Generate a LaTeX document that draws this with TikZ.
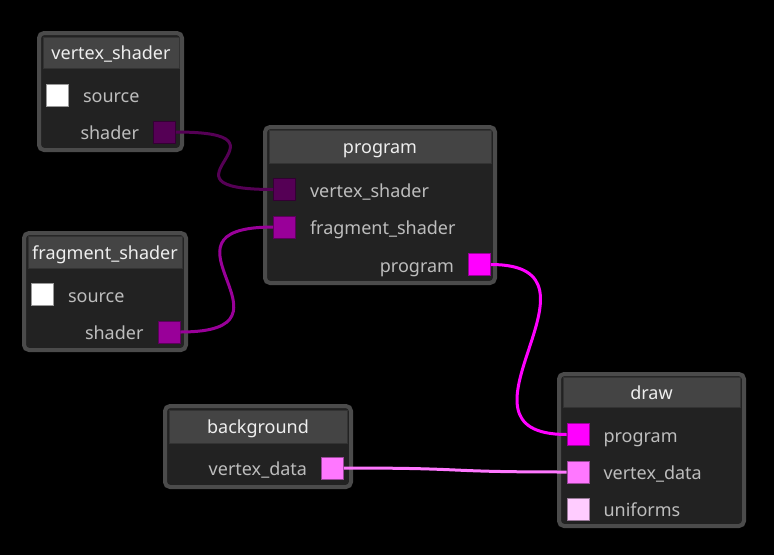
\documentclass[tikz,border=0pt]{standalone}
\usepackage{fontspec}
\setmainfont{Noto Sans}
\definecolor{nodeborder}{HTML}{4B4B4B}
\definecolor{nodebody}{HTML}{222222}
\definecolor{nodehead}{HTML}{444444}
\definecolor{headedge}{HTML}{333333}
\definecolor{headtext}{HTML}{EEEEEE}
\definecolor{rowtext}{HTML}{BDBDBD}
\definecolor{pA}{HTML}{550055}
\definecolor{pB}{HTML}{990099}
\definecolor{pC}{HTML}{FF00FF}
\definecolor{pD}{HTML}{FF77FF}
\definecolor{pE}{HTML}{FFCCFF}
\tikzset{
  frame/.style={draw=nodeborder, line width=4, fill=nodebody, rounded corners=5, inner sep=0},
  head/.style={draw=headedge, line width=1, fill=nodehead, inner sep=0, text=headtext,
    text height=18.5, text depth=4.4, font=\fontsize{18}{21}\selectfont},
  port/.style={minimum size=22, inner sep=0, draw=black!40!#1, line width=0.6, fill=#1},
  inlabel/.style={anchor=west, inner sep=0, xshift=14, text=rowtext,
    text height=19.5, text depth=4.4, font=\fontsize{18}{21}\selectfont},
  outlabel/.style={anchor=east, inner sep=0, xshift=-14, text=rowtext,
    text height=19.5, text depth=4.4, font=\fontsize{18}{21}\selectfont},
  link/.style={line width=3, #1},
}
\begin{document}
\begin{tikzpicture}[x=1pt,y=-1pt]
\fill[black] (0,0) rectangle (774,555);
\useasboundingbox (0,0) rectangle (774,555);
% vertex_shader
\node[frame, minimum width=143, minimum height=117] (vsF) at (110.5,91.5) {};
\node[head, minimum width=136, minimum height=31] (vsH) at (111,52.5) {vertex\_shader};
\node[port=white] (vsIn) at (57.5,95) {};
\node[inlabel] (vsInL) at (vsIn.east) {source};
\node[port=pA] (vsOut) at (164.5,132) {};
\node[outlabel] (vsOutL) at (vsOut.west) {shader};
% fragment_shader
\node[frame, minimum width=162, minimum height=117] (fsF) at (105,291.5) {};
\node[head, minimum width=154, minimum height=32] (fsH) at (105,252) {fragment\_shader};
\node[port=white] (fsIn) at (42.5,294.5) {};
\node[inlabel] (fsInL) at (fsIn.east) {source};
\node[port=pB] (fsOut) at (169,332) {};
\node[outlabel] (fsOutL) at (fsOut.west) {shader};
% program
\node[frame, minimum width=230, minimum height=156] (prF) at (380,205) {};
\node[head, minimum width=222, minimum height=33] (prH) at (380,146.5) {program};
\node[port=pA] (prVs) at (284.5,189.5) {};
\node[inlabel] (prVsL) at (prVs.east) {vertex\_shader};
\node[port=pB] (prFs) at (284.5,227) {};
\node[inlabel] (prFsL) at (prFs.east) {fragment\_shader};
\node[port=pC] (prOut) at (479.5,264.5) {};
\node[outlabel] (prOutL) at (prOut.west) {program};
% background
\node[frame, minimum width=186, minimum height=81] (bgF) at (258,446.5) {};
\node[head, minimum width=178, minimum height=33] (bgH) at (258,426.5) {background};
\node[port=pD] (bgOut) at (332.5,468) {};
\node[outlabel] (bgOutL) at (bgOut.west) {vertex\_data};
% draw
\node[frame, minimum width=185, minimum height=152] (drF) at (651.5,450) {};
\node[head, minimum width=177, minimum height=30] (drH) at (651.5,392) {draw};
\node[port=pC] (drPr) at (578,434.5) {};
\node[inlabel] (drPrL) at (drPr.east) {program};
\node[port=pD] (drVd) at (578,472) {};
\node[inlabel] (drVdL) at (drVd.east) {vertex\_data};
\node[port=pE] (drUn) at (578,509) {};
\node[inlabel] (drUnL) at (drUn.east) {uniforms};
% links
\draw[link=pA] (vsOut.east) .. controls +(132,0) and +(-132,0) .. (prVs.west);
\draw[link=pB] (fsOut.east) .. controls +(132,0) and +(-132,0) .. (prFs.west);
\draw[link=pC] (prOut.east) .. controls +(132,0) and +(-132,0) .. (drPr.west);
\draw[link=pD] (bgOut.east) .. controls +(132,0) and +(-132,0) .. (drVd.west);
\end{tikzpicture}
\end{document}
